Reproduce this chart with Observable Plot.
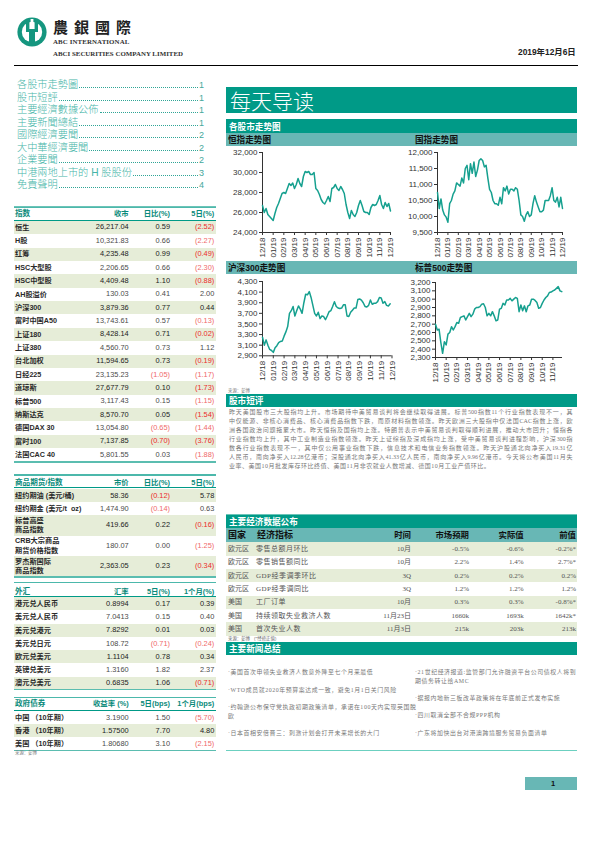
<!DOCTYPE html>
<html lang="zh">
<head>
<meta charset="utf-8">
<script src="https://cdn.jsdelivr.net/npm/d3@7"></script>
<script src="https://cdn.jsdelivr.net/npm/@observablehq/plot@0.6"></script>
<style>
html,body{margin:0;padding:0;background:#fff;}
#page{position:relative;width:595px;height:842px;overflow:hidden;font-family:"Liberation Sans","Noto Sans CJK SC",sans-serif;color:#333;}
#page .t{position:absolute;white-space:nowrap;}
#page .b{position:absolute;}
.toc{position:absolute;left:17px;width:187px;height:12px;display:flex;align-items:flex-end;font-family:"Liberation Sans","Noto Sans CJK TC",sans-serif;font-size:10.2px;line-height:12px;color:#45b5a8;font-weight:300;}
.toc span{display:inline-block;height:12px;line-height:12px;}
.toc i{flex:1;height:0;border-bottom:1px dotted #2fa596;margin:0 1px 3px 1px;}
.toc b{display:inline-block;height:12px;line-height:12px;font:normal 9px/12px "Liberation Sans";color:#45a89c;}
.para div{text-align:justify;text-align-last:justify;height:9px;line-height:9px;white-space:nowrap;}
</style>
</head>
<body>
<div id="page"></div>
<script>
// ---------- chart data (one value per ~5 days, six per month) ----------
const monthLabels = ["12/18","01/19","02/19","03/19","04/19","05/19","06/19","07/19","08/19","09/19","10/19","11/19","12/19"];
const hsiValues = [26700,26000,26400,25800,25600,25400,25200,25900,26500,26900,27400,27900,28000,27900,28400,28900,28700,28950,28400,28800,29400,28900,28600,29600,30100,30000,30100,29800,29800,30000,28400,28200,27800,27300,27000,26850,27200,27600,27100,28400,28500,28800,28400,28200,28600,28300,27900,26800,26000,25400,26200,25800,25600,26000,26700,27200,26700,26100,26000,26000,25800,26500,26800,26700,26800,27200,27700,26800,26400,27000,26600,26900,26150];
const hsceiValues = [10750,10250,10550,10200,10050,9980,9820,10400,10500,10700,10800,11050,11000,10950,11200,11050,11500,11600,11150,11650,11350,11700,11250,11450,11750,11800,11750,11550,11600,11200,10850,10750,10500,10400,10400,10350,10600,10400,10900,10800,10950,10700,10850,10850,10800,10900,10850,10500,10050,10000,9850,10050,10150,10000,10050,10400,10650,10450,10300,10150,10150,10200,10500,10500,10500,10650,10900,10500,10450,10600,10300,10600,10250];
const csi300Values = [3250,3100,3200,3100,3020,3000,2965,3050,3090,3150,3170,3180,3270,3350,3450,3700,3750,3830,3650,3750,3840,3780,3700,3900,4060,4050,4110,4000,3850,3700,3650,3720,3600,3650,3640,3580,3650,3730,3750,3830,3920,3830,3800,3790,3800,3860,3860,3650,3640,3720,3760,3800,3800,3960,3970,3950,3900,3830,3820,3850,3950,3870,3890,3890,3920,4000,3990,3890,3920,3850,3840,3880];
const spxValues = [2700,2630,2640,2480,2350,2490,2450,2580,2600,2670,2630,2670,2720,2710,2780,2790,2800,2750,2790,2830,2790,2820,2880,2900,2900,2910,2940,2945,2900,2800,2830,2800,2850,2800,2740,2750,2880,2890,2950,2930,2990,2990,3010,2980,3000,3020,3010,2850,2930,2860,2920,2850,2920,2930,3000,3000,2985,2960,2890,2900,2950,2990,3020,3040,3080,3085,3100,3110,3130,3150,3100,3090];
const hsiTicks = [24000,26000,28000,30000,32000];
const hsceiTicks = [9500,10000,10500,11000,11500,12000];
const csi300Ticks = [2900,3100,3300,3500,3700,3900,4100,4300];
const spxTicks = [2300,2400,2500,2600,2700,2800,2900,3000,3100,3200];

// ---------- tables ----------
const indexHead = ["指数","收市","日比(%)","5日(%)"];
const indexNames = ["恒生","H股","红筹","HSC大型股","HSC中型股","AH股溢价","沪深300","富时中国A50","上证180","上证380","台北加权","日经225","道琼斯","标普500","纳斯达克","德国DAX 30","富时100","法国CAC 40"];
const indexClose = ["26,217.04","10,321.83","4,235.48","2,206.65","4,409.48","130.03","3,879.36","13,743.61","8,428.14","4,560.70","11,594.65","23,135.23","27,677.79","3,117.43","8,570.70","13,054.80","7,137.85","5,801.55"];
const indexDay = ["0.59","0.66","0.99","0.66","1.10","0.41","0.77","0.57","0.71","0.73","0.73","(1.05)","0.10","0.15","0.05","(0.65)","(0.70)","0.03"];
const index5d = ["(2.52)","(2.27)","(0.49)","(2.30)","(0.88)","2.00","0.44","(0.13)","(0.02)","1.12","(0.19)","(1.17)","(1.73)","(1.15)","(1.54)","(1.44)","(3.76)","(1.88)"];
const cmdHead = ["商品期货/指数","市价","日比(%)","5日(%)"];
const cmdNames = ["纽约期油 (美元/桶)","纽约期金 (美元/t&nbsp;&nbsp;oz)","标普高盛<br>商品指数","CRB大宗商品<br>期货价格指数","罗杰斯国际<br>商品指数"];
const cmdPrice = ["58.36","1,474.90","419.66","180.07","2,363.05"];
const cmdDay = ["(0.12)","(0.14)","0.22","0.00","0.23"];
const cmd5d = ["5.78","0.63","(0.16)","(1.25)","(0.34)"];
const fxHead = ["外汇","汇率","5日(%)","1个月(%)"];
const fxNames = ["港元兑人民币","美元兑人民币","美元兑港元","美元兑日元","欧元兑美元","英镑兑美元","澳元兑美元"];
const fxRate = ["0.8994","7.0413","7.8292","108.72","1.1104","1.3160","0.6835"];
const fx5d = ["0.17","0.15","0.01","(0.71)","0.78","1.82","1.06"];
const fx1m = ["0.39","0.40","0.03","(0.24)","0.34","2.37","(0.71)"];
const bondHead = ["政府债券","收益率 (%)","5日(bps)","1个月(bps)"];
const bondNames = ["中国 （10年期）","香港 （10年期）","美国 （10年期）"];
const bondYield = ["3.1900","1.57500","1.80680"];
const bond5d = ["1.50","7.70","3.10"];
const bond1m = ["(5.70)","4.80","(2.15)"];
const tocItems = ["各股市走勢圖","股市短評","主要經濟數據公佈","主要新聞總結","國際經濟要聞","大中華經濟要聞","企業要聞","中港兩地上市的 H 股股份","免責聲明"];
const tocPages = ["1","1","1","1","2","2","2","3","4"];
const econHead = ["国家","经济指标","时间","市场预期","实际值","前值"];
const econCountry = ["欧元区","欧元区","欧元区","欧元区","美国","美国","美国"];
const econName = ["零售总额月环比","零售销售额同比","GDP经季调季环比","GDP经季调同比","工厂订单","持续领取失业救济人数","首次失业人数"];
const econTime = ["10月","10月","3Q","3Q","10月","11月23日","11月3日"];
const econExpected = ["-0.5%","2.2%","0.2%","1.2%","0.3%","1660k","215k"];
const econActual = ["-0.6%","1.4%","0.2%","1.2%","0.3%","1693k","203k"];
const econPrior = ["-0.2%*","2.7%*","0.2%","1.2%","-0.8%*","1642k*","213k"];
const paraLines = [
"昨天美国股市三大股指均上升。市场期待中美贸易谈判将会继续取得进展。标普500指数11个行业指数表现不一，其",
"中仅能源、非核心消费品、核心消费品指数下跌，而原材料指数领涨。昨天欧洲三大股指中仅法国CAC指数上涨，欧",
"洲各国政治问题拖累大市。昨天恒指及国指均上涨。特朗普表示中美贸易谈判取得顺利进展，推动大市回升；恒指各",
"行业指数均上升，其中工业制造业指数领涨。昨天上证综指及深成指均上涨，受中美贸易谈判进程影响，沪深300指",
"数各行业指数表现不一，其中仅公用事业指数下跌，信息技术和电信业务指数领涨。昨天沪股通北向净买入19.31亿",
"人民币，南向净买入12.28亿港币；深股通北向净买入41.33亿人民币，南向净买入9.96亿港币。今天将公布美国11月失",
"业率、美国10月批发库存环比终值、美国11月非农就业人数增减、德国10月工业产值环比。"];
const newsLeft = ["·美国首次申领失业救济人数意外降至七个月来最低","·WTO成员就2020年预算案达成一致，避免1月1日关门风险","·约翰逊公布保守党执政初期政策清单，承诺在100天内实现英国脱","欧","·日本首相安倍晋三：刺激计划会打开未来增长的大门"];
const newsRight = ["·21世纪经济报道:监管部门允许融资平台公司债权人将到","期债务转让给AMC","·据报内地新三板改革政策将在年底前正式发布实施","·四川取消全部不合规PPP机构","·广东将加快出台对港澳跨境服务贸易负面清单"];

// ---------- helpers ----------
const TEAL="#009a87", MID="#68b7b5", SHADE="#e6edd8", HEAD="#0a8a7a", LINE="#4cb8ab";
const page=document.getElementById("page");
const serif='"Liberation Serif","Noto Sans CJK SC",serif';
function box(x,y,w,h,bg){const d=document.createElement("div");d.className="b";d.style.cssText=`left:${x}px;top:${y}px;width:${w}px;height:${h}px;background:${bg}`;page.appendChild(d);return d;}
function text(s,x,y,o={}){const d=document.createElement("div");d.className="t";d.innerHTML=s;
 const lh=o.lh||10;
 d.style.cssText=`${o.right?`right:${595-x}px;text-align:right`:`left:${x}px`};top:${y-lh*(o.lines||1)/2}px;line-height:${lh}px;font-size:${o.size||7.4}px;color:${o.color||"#333"};font-weight:${o.weight||400};font-family:${o.font||'"Liberation Sans","Noto Sans CJK SC",sans-serif'};${o.ls?`letter-spacing:${o.ls}px;`:""}`;
 page.appendChild(d);return d;}
const cols=[128.7,170,214.3];
function table(head,top,headY,lineY,names,c1,c2,c3,heights,firstShade,startY,endY){
 box(14,top,202,1.2,LINE);
 text(head[0],15,headY,{color:HEAD,weight:700,size:7.6});
 head.slice(1).forEach((h,i)=>text(h,cols[i],headY,{right:true,color:HEAD,weight:700,size:7.4}));
 box(14,lineY,202,1,TEAL);
 let y=startY;
 names.forEach((n,i)=>{const h=heights[i];const sh=(i%2==0)==firstShade;
  if(sh)box(14,y,202,h,SHADE);
  const c=y+h/2, col=sh?"#222":"#4a4a4a";
  const lines=n.includes("<br>")?2:1;
  text(n,15,c,{lines,lh:9.5,weight:700,size:7.2,color:"#2a2a2a"});
  [c1,c2,c3].forEach((arr,k)=>{const v=arr[i];const neg=v[0]=="(";text(v,cols[k],c,{right:true,color:neg?(sh?"#ec2a2a":"#f06a6a"):col,size:7.4});});
  y+=h;});
 box(14,endY,202,1.5,"#5bbdb0");
}
function lineChart(values,ticks,labels,axisX,yTop,plotW,plotH,months){
 const mL=40,mT=5,mB=30,mR=6;
 const host=document.createElement("div");host.className="b";
 host.style.cssText=`left:${axisX-mL}px;top:${yTop-mT}px;`;
 const fig=Plot.plot({width:mL+plotW+mR,height:mT+plotH+mB,marginLeft:mL,marginTop:mT,marginBottom:mB,marginRight:mR,
  style:{background:"transparent",fontSize:"8px",fontFamily:'"Liberation Sans",sans-serif',color:"#333",display:"block"},
  x:{domain:[0,months],axis:null},y:{domain:d3.extent(ticks),axis:null},
  marks:[
   Plot.axisY({ticks,tickFormat:d3.format(","),tickSize:3,tickPadding:2,anchor:"left",label:null}),
   Plot.axisX({ticks:labels.map((_,i)=>i),tickFormat:i=>labels[i],tickSize:3,tickPadding:2,tickRotate:-90,anchor:"bottom",label:null}),
   Plot.ruleX([0],{stroke:"#333"}),
   Plot.ruleY([ticks[0]],{stroke:"#333"}),
   Plot.line(values,{x:(d,i)=>i/6,y:d=>d,stroke:"#16a08f",strokeWidth:1.5,curve:"linear"})
  ]});
 host.appendChild(fig);page.appendChild(host);
}

// ---------- masthead ----------
const logo=document.createElementNS("http://www.w3.org/2000/svg","svg");
logo.setAttribute("width",32);logo.setAttribute("height",32);logo.setAttribute("viewBox","0 0 32 32");
logo.style.cssText="position:absolute;left:16px;top:16px";
logo.innerHTML=`<circle cx="16" cy="16" r="14.6" fill="#15967f"/><circle cx="16" cy="16" r="10.2" fill="#fff"/><path d="M10 3h3.4v10h5.2V3H22v13h-3v13h-6V16h-3z" fill="#15967f"/><path d="M14.6 3h2.8v8.5h-2.8z" fill="#fff"/>`;
page.appendChild(logo);
text("農銀國際",53,26.5,{size:15,weight:700,color:"#222",ls:6,font:'"Noto Sans CJK TC",serif',lh:16});
text("ABC INTERNATIONAL",53,42,{size:6.9,weight:700,color:"#333",font:'"Liberation Serif",serif',ls:.1});
text("ABCI SECURITIES COMPANY LIMITED",53,54,{size:6.9,weight:700,color:"#333",font:'"Liberation Serif",serif'});
text("2019年12月6日",575.7,51.5,{right:true,size:8.4,weight:700,color:"#222"});
box(13.5,64.6,564,1.2,"#000");

// ---------- table of contents ----------
tocItems.forEach((s,i)=>{const d=document.createElement("div");d.className="toc";d.style.top=(79+i*12.5)+"px";d.innerHTML=`<span>${s}</span><i></i><b>${tocPages[i]}</b>`;page.appendChild(d);});
box(13.5,206.3,202,1.4,"#6cc4b8");

// ---------- left tables ----------
table(indexHead,207,214.3,219.6,indexNames,indexClose,indexDay,index5d,indexNames.map(()=>13.37),true,220.8,461);
box(14,474,202,1,LINE);
table(cmdHead,475,482.7,487,cmdNames,cmdPrice,cmdDay,cmd5d,[13,13,20.6,20.4,20.2],true,489,576);
table(fxHead,582,591.7,596.3,fxNames,fxRate,fx5d,fx1m,fxNames.map(()=>13.2),true,597.3,688.6);
table(bondHead,697,704.2,709.8,bondNames,bondYield,bond5d,bond1m,[13,13.3,13],false,711,749.6);
text("来源：彭博",15,752.5,{size:4.4,color:"#777",lh:5});

// ---------- right column ----------
box(226,86.7,351,26.6,TEAL);
text("每天导读",230,100,{size:21,color:"#fff",font:'"Noto Sans CJK SC",sans-serif',lh:26,weight:300});
box(226,119.3,351,14,TEAL);
text("各股市走势图",229,126.5,{size:8.6,color:"#fff",weight:700});
box(226,133.3,351,12.4,MID);
text("恒指走势图",228,139.6,{size:8.6,color:"#111",weight:700});
text("国指走势图",415,139.6,{size:8.6,color:"#111",weight:700});
lineChart(hsiValues,hsiTicks,monthLabels,261.7,151.7,128,80,12);
lineChart(hsceiValues,hsceiTicks,monthLabels,436.7,151.7,125,80,12);
box(226,261,351,13,MID);
text("沪深300走势图",228,267.6,{size:8.6,color:"#111",weight:700});
text("标普500走势图",415,267.6,{size:8.6,color:"#111",weight:700});
lineChart(csi300Values,csi300Ticks,monthLabels,261.5,281,129.5,74.3,12);
lineChart(spxValues,spxTicks,monthLabels.slice(0,12),435,282,127,75,11.9);
text("来源：彭博",228,390.3,{size:4.4,color:"#777",lh:5});

box(226,393.6,351,1,"#6cc4b8");
box(226,394.4,351,13,TEAL);
text("股市短评",229,401,{size:8.6,color:"#fff",weight:700});
const para=box(229,408.3,343.5,64,"transparent");
para.classList.add("para");
para.style.fontSize="6px";para.style.color="#777";para.style.fontFamily=serif;
paraLines.forEach((l,i)=>{const d=document.createElement("div");d.textContent=l;if(i==6){d.style.textAlignLast="left";d.style.letterSpacing=".5px";}para.appendChild(d);});

box(226,514.3,351,1,"#6cc4b8");
box(226,515,351,13,TEAL);
text("主要经济数据公布",229,521.5,{size:8.6,color:"#fff",weight:700});
box(226,528,351,14,MID);
const econRight=[411,469,523.7,576];
text(econHead[0],228,535,{size:9,weight:700,color:"#111"});
text(econHead[1],257,535,{size:9,weight:700,color:"#111"});
econHead.slice(2).forEach((h,i)=>text(h,econRight[i],535,{right:true,size:8.4,weight:700,color:"#111"}));
econCountry.forEach((c,i)=>{const y=542.3+i*13.35,m=y+6.67;
 if(i%2==0)box(226,y,351,13.35,SHADE);
 text(c,228,m,{size:7,color:"#555"});
 text(econName[i],256,m,{size:7,color:"#555",ls:.5,font:serif});
 text(econTime[i],econRight[0],m,{right:true,size:7,color:"#555",font:serif});
 text(econExpected[i],econRight[1],m,{right:true,size:7,color:"#555",font:serif});
 text(econActual[i],econRight[2],m,{right:true,size:7,color:"#555",font:serif});
 text(econPrior[i],econRight[3],m,{right:true,size:7,color:"#555",font:serif});
});
text("来源：彭博 （*经修正值）",228,638.4,{size:4.4,color:"#666",lh:5});
box(226,642.3,351,13,TEAL);
text("主要新闻总结",229,649.2,{size:8.6,color:"#fff",weight:700});
const leftY=[672.3,689.7,706.7,715.7,733];
const rightY=[672.3,681.3,698,715.3,733];
newsLeft.forEach((s,i)=>text(s,228,leftY[i],{size:5.9,ls:.6,color:"#777",font:serif}));
newsRight.forEach((s,i)=>text(s,415,rightY[i],{size:5.9,ls:.6,color:"#777",font:serif}));
box(226,749.6,351,1,"#6cd0c0");
box(525,777,52,13,MID);
text("1",551,783.5,{size:7.5,weight:700,color:"#111"});
</script>
</body>
</html>
